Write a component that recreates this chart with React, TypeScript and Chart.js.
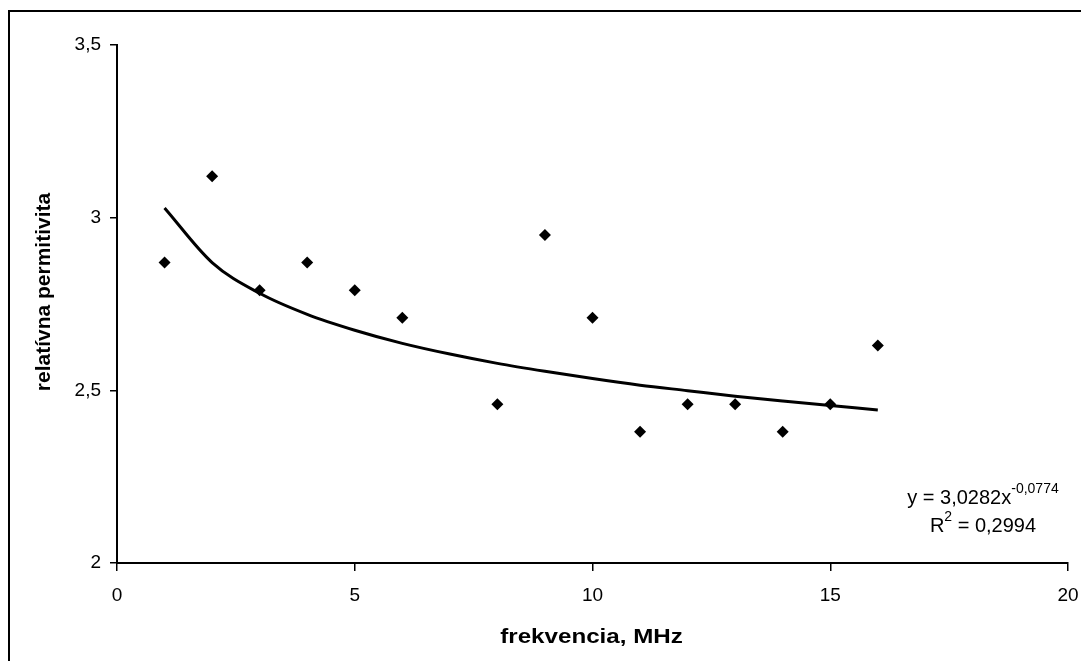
import React, { useEffect, useRef } from "react";
import { Chart, registerables } from "chart.js";

Chart.register(...registerables);

// ---- data ----
const frequencies = [1, 2, 3, 4, 5, 6, 8, 9, 10, 11, 12, 13, 14, 15, 16];
const permittivity = [2.87, 3.12, 2.79, 2.87, 2.79, 2.71, 2.46, 2.95, 2.71, 2.38, 2.46, 2.46, 2.38, 2.46, 2.63];
const trendX = [1, 2, 3, 4, 5, 6, 7, 8, 9, 10, 11, 12, 13, 14, 15, 16];
const trendY = [3.028, 2.87, 2.781, 2.72, 2.674, 2.636, 2.605, 2.578, 2.555, 2.534, 2.515, 2.499, 2.483, 2.469, 2.456, 2.443];
const xTickValues = [0, 5, 10, 15, 20];
const yTickValues = [2, 2.5, 3, 3.5];
const xTitle = "frekvencia, MHz";
const yTitle = "relatívna permitivita";
const eqMain = "y = 3,0282x";
const eqExp = "-0,0774";
const r2Base = "R";
const r2Exp = "2";
const r2Rest = " = 0,2994";

const FONT = '"Liberation Sans", Arial, sans-serif';
const W = 1073;
const H = 653;

const fmt = (v: number) => String(v).replace(".", ",");

const decorPlugin = {
  id: "decor",
  beforeDraw(chart: any) {
    const ctx = chart.ctx;
    ctx.save();
    ctx.fillStyle = "#fff";
    ctx.fillRect(0, 0, chart.width, chart.height);
    ctx.strokeStyle = "#000";
    ctx.lineWidth = 2;
    ctx.beginPath();
    ctx.moveTo(1, chart.height + 10);
    ctx.lineTo(1, 3);
    ctx.lineTo(chart.width + 10, 3);
    ctx.stroke();
    ctx.restore();
  },
  afterDraw(chart: any) {
    const ctx = chart.ctx;
    const area = chart.chartArea;
    ctx.save();
    ctx.fillStyle = "#000";
    // y title
    ctx.font = `bold 21px ${FONT}`;
    ctx.textAlign = "center";
    ctx.textBaseline = "middle";
    ctx.save();
    ctx.translate(36, (area.top + area.bottom) / 2 - 12);
    ctx.rotate(-Math.PI / 2);
    ctx.fillText(yTitle, 0, 0);
    ctx.restore();
    // x title
    ctx.save();
    ctx.translate((area.left + area.right) / 2 - 1, 629);
    ctx.scale(1.15, 1);
    ctx.fillText(xTitle, 0, 0);
    ctx.restore();

    // equation
    const cx = 975;
    ctx.textAlign = "left";
    ctx.textBaseline = "alphabetic";
    const big = `20px ${FONT}`;
    const small = `14px ${FONT}`;
    ctx.font = big;
    const w1 = ctx.measureText(eqMain).width;
    ctx.font = small;
    const w2 = ctx.measureText(eqExp).width;
    let x = cx - (w1 + w2) / 2;
    const b1 = 495.5;
    ctx.font = big;
    ctx.fillText(eqMain, x, b1);
    ctx.font = small;
    ctx.fillText(eqExp, x + w1, b1 - 10.5);

    ctx.font = big;
    const r1 = ctx.measureText(r2Base).width;
    const r3 = ctx.measureText(r2Rest).width;
    ctx.font = small;
    const r2 = ctx.measureText(r2Exp).width;
    x = cx - (r1 + r2 + r3) / 2;
    const b2 = 523.5;
    ctx.font = big;
    ctx.fillText(r2Base, x, b2);
    ctx.font = small;
    ctx.fillText(r2Exp, x + r1, b2 - 10.5);
    ctx.font = big;
    ctx.fillText(r2Rest, x + r1 + r2, b2);
    ctx.restore();
  },
};

export default function App() {
  const ref = useRef<HTMLCanvasElement | null>(null);

  useEffect(() => {
    if (!ref.current) return;
    const chart = new Chart(ref.current, {
      type: "scatter",
      data: {
        datasets: [
          {
            label: "trend",
            data: trendX.map((x, i) => ({ x, y: trendY[i] })),
            showLine: true,
            borderColor: "#000",
            borderWidth: 3,
            pointRadius: 0,
            cubicInterpolationMode: "monotone",
            fill: false,
          },
          {
            label: "relatívna permitivita",
            data: frequencies.map((x, i) => ({ x, y: permittivity[i] })),
            pointStyle: "rectRot",
            pointRadius: 6,
            backgroundColor: "#000",
            borderColor: "#000",
            borderWidth: 0,
            showLine: false,
          },
        ],
      },
      options: {
        responsive: false,
        animation: false,
        devicePixelRatio: 1,
        layout: { padding: { top: 37, right: W - 1060, left: 0, bottom: 0 } },
        plugins: {
          legend: { display: false },
          tooltip: { enabled: false },
          title: { display: false },
        },
        scales: {
          x: {
            type: "linear",
            min: 0,
            max: 20,
            afterBuildTicks: (s: any) => {
              s.ticks = xTickValues.map((v) => ({ value: v }));
            },
            afterFit: (s: any) => {
              s.height = H - 555;
              s.paddingLeft = 0;
              s.paddingRight = 0;
            },
            grid: {
              display: true,
              drawOnChartArea: false,
              drawTicks: true,
              tickLength: 8,
              color: "#000",
              lineWidth: 1.5,
            },
            border: { display: true, color: "#000", width: 2 },
            ticks: {
              color: "#000",
              font: { family: FONT, size: 19 },
              padding: 13,
              maxRotation: 0,
              autoSkip: false,
              callback: (v: any) => fmt(Number(v)),
            },
          },
          y: {
            type: "linear",
            min: 2,
            max: 3.5,
            afterBuildTicks: (s: any) => {
              s.ticks = yTickValues.map((v) => ({ value: v }));
            },
            afterFit: (s: any) => {
              s.width = 109;
              s.paddingTop = 0;
              s.paddingBottom = 0;
            },
            grid: {
              display: true,
              drawOnChartArea: false,
              drawTicks: true,
              tickLength: 7,
              color: "#000",
              lineWidth: 1.5,
            },
            border: { display: true, color: "#000", width: 2 },
            ticks: {
              color: "#000",
              font: { family: FONT, size: 19 },
              padding: 9,
              autoSkip: false,
              callback: (v: any) => fmt(Number(v)),
            },
          },
        },
      },
      plugins: [decorPlugin],
    });
    return () => chart.destroy();
  }, []);

  return (
    <div style={{ width: W, height: H }}>
      <canvas ref={ref} width={W} height={H} style={{ display: "block", width: W, height: H }} />
    </div>
  );
}
